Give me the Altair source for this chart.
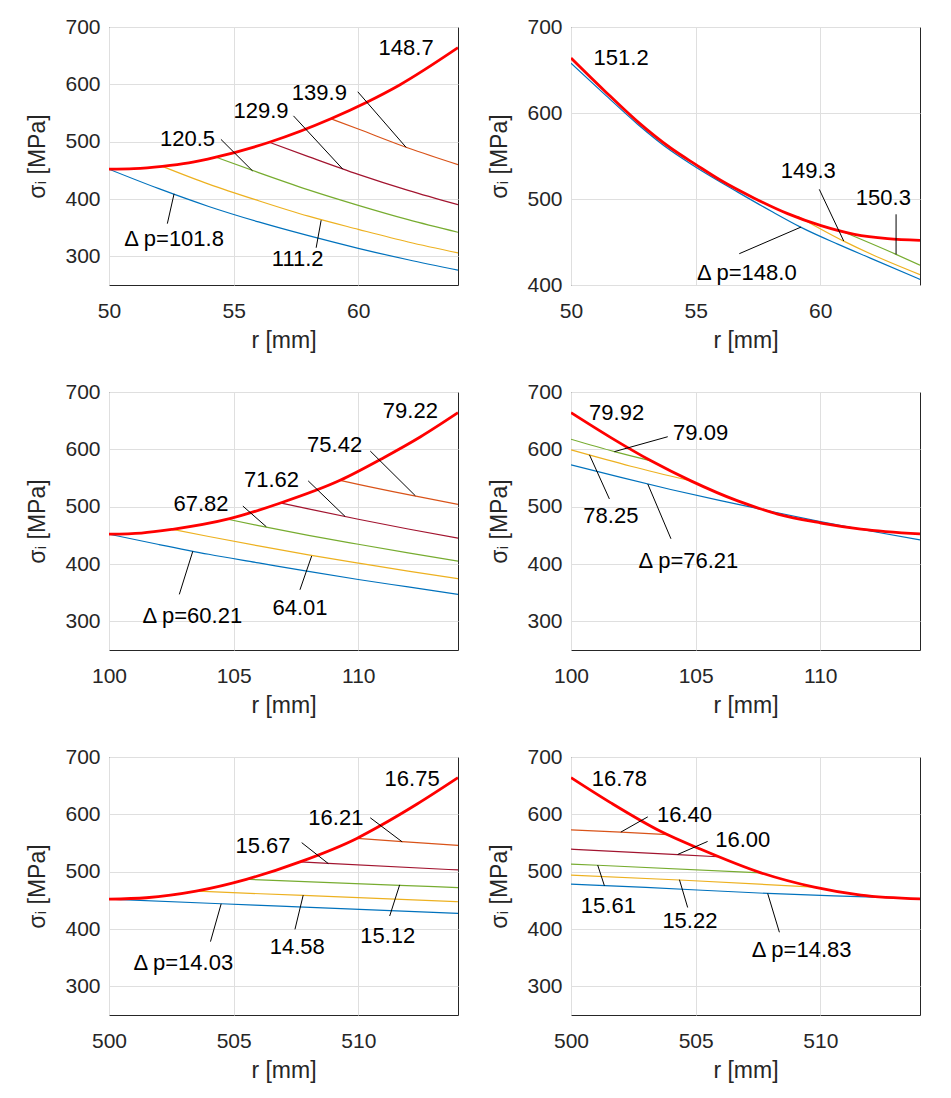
import altair as alt
import pandas as pd

# ---------------- data ----------------
# Top-left panel (r = 50..64 mm)
TL_RED_R = [50, 51, 52.14, 53.2, 54.29, 56.43, 58.9, 60.3, 61.66, 64]
TL_RED_S = [452, 453, 457, 463, 473, 499, 540, 568, 599, 664]
TL_BLUE_R = [50, 52, 54, 56, 58, 60, 62, 64]
TL_BLUE_S = [452, 418, 387, 360, 336, 314, 294, 276]
TL_YELLOW_R = [52.14, 54, 56, 58, 60, 62, 64]
TL_YELLOW_S = [457, 426, 397, 370, 347, 325, 306]
TL_GREEN_R = [54.29, 56, 58, 60, 62, 64]
TL_GREEN_S = [473, 446, 416, 389, 364, 342]
TL_WINE_R = [56.43, 58, 60, 62, 64]
TL_WINE_S = [499, 474, 443, 415, 390]
TL_ORANGE_R = [58.9, 60, 62, 64]
TL_ORANGE_S = [540, 522, 489, 460]
TL_TEXT = ["148.7", "139.9", "129.9", "120.5", "Δ p=101.8", "111.2"]
TL_TEXT_R = [61.92, 58.44, 56.1, 53.15, 52.61, 57.57]
TL_TEXT_S = [664, 585, 553, 504, 330, 295]
TL_LEAD_R1 = [59.98, 57.40, 54.49, 52.34, 58.31]
TL_LEAD_S1 = [587, 545, 504, 357, 315]
TL_LEAD_R2 = [61.92, 59.38, 55.76, 52.61, 58.51]
TL_LEAD_S2 = [490, 452, 449, 409, 363]

# Top-right panel (r = 50..64 mm)
TR_RED_R = [50, 51.34, 52.67, 54.01, 55.01, 56.02, 57.35, 58.69, 60.03, 61.37, 62.70, 64]
TR_RED_S = [664, 626, 590, 559, 540, 521.5, 501, 483, 469, 459, 454, 452]
TR_BLUE_R = [50, 51.34, 52.67, 54.01, 55.01, 56.69, 58.02, 59.23, 60.70, 62.03, 64]
TR_BLUE_S = [658, 622, 587, 556, 537, 508, 486, 467, 447.5, 431, 406.5]
TR_YELLOW_R = [59.09, 60.94, 62.03, 64]
TR_YELLOW_S = [480, 451, 436, 412]
TR_GREEN_R = [60.7, 63.04, 64]
TR_GREEN_S = [464.5, 435.6, 423]
TR_TEXT = ["151.2", "149.3", "150.3", "Δ p=148.0"]
TR_TEXT_R = [52.01, 59.52, 62.53, 57.05]
TR_TEXT_S = [664, 532.6, 501.5, 413.6]
TR_LEAD_R1 = [59.96, 63.04, 56.75]
TR_LEAD_S1 = [511.2, 482.2, 436.4]
TR_LEAD_R2 = [60.94, 63.04, 59.23]
TR_LEAD_S2 = [451.2, 435.6, 467.4]

# Middle-left panel (r = 100..114 mm)
ML_RED_R = [100, 101.3, 102.55, 104.84, 106.85, 109.27, 111.02, 112.5, 114]
ML_RED_S = [452, 454, 460.5, 479, 506, 546, 585.5, 622, 664]
ML_BLUE_R = [100, 102, 104, 106, 108, 110, 112, 114]
ML_BLUE_S = [452, 434, 417, 402, 387, 373, 360, 347]
ML_YELLOW_R = [102.55, 104, 106, 108, 110, 112, 114]
ML_YELLOW_S = [460.5, 448, 431.5, 416, 401.5, 387.5, 374.5]
ML_GREEN_R = [104.77, 106, 108, 110, 112, 114]
ML_GREEN_S = [478, 467, 450, 434.5, 419.5, 405]
ML_WINE_R = [106.92, 108, 110, 112, 114]
ML_WINE_S = [506, 496, 478, 461, 445]
ML_ORANGE_R = [109.27, 110, 112, 114]
ML_ORANGE_S = [546, 539, 521, 504]
ML_TEXT = ["79.22", "75.42", "71.62", "67.82", "Δ p=60.21", "64.01"]
ML_TEXT_R = [112.09, 109.05, 106.52, 103.69, 103.34, 107.66]
ML_TEXT_S = [666, 607, 546, 505, 309, 323]
ML_LEAD_R1 = [110.48, 107.99, 105.37, 102.82, 107.66]
ML_LEAD_S1 = [597, 545, 501, 347, 355]
ML_LEAD_R2 = [112.29, 109.47, 106.31, 103.36, 108.13]
ML_LEAD_S2 = [519, 483, 465, 422, 414]

# Middle-right panel (r = 100..114 mm)
MR_RED_R = [100, 101.6, 103.21, 104.81, 106.69, 107.62, 108.29, 110.03, 111.63, 114]
MR_RED_S = [664, 620.5, 580, 545, 510, 496, 487, 471.5, 461, 452.5]
MR_BLUE_R = [100, 102, 104, 106, 108, 110, 112, 114]
MR_BLUE_S = [573, 551, 530, 510.5, 492, 474, 457.5, 442]
MR_YELLOW_R = [100, 102.4, 104.81]
MR_YELLOW_S = [599, 570.5, 545]
MR_GREEN_R = [100, 101.74, 103.21]
MR_GREEN_S = [617.6, 596, 580]
MR_TEXT = ["79.92", "79.09", "78.25", "Δ p=76.21"]
MR_TEXT_R = [101.83, 105.2, 101.6, 104.71]
MR_TEXT_S = [664, 628, 484, 405]
MR_LEAD_R1 = [103.88, 101.54, 104.01]
MR_LEAD_S1 = [622, 513.5, 444]
MR_LEAD_R2 = [101.74, 100.74, 103.08]
MR_LEAD_S2 = [596, 590.5, 539.5]

# Bottom-left panel (r = 500..514 mm)
BL_RED_R = [500, 501.5, 503.49, 505.51, 507.66, 509.94, 510.88, 512.36, 514]
BL_RED_S = [452, 454.5, 466, 486.6, 517, 558, 580, 618, 664]
BL_BLUE_R = [500, 504.5, 507.12, 514]
BL_BLUE_S = [452, 444, 439.4, 427.2]
BL_YELLOW_R = [503.49, 507.79, 514]
BL_YELLOW_S = [466, 458.5, 447.5]
BL_GREEN_R = [505.51, 511.66, 514]
BL_GREEN_S = [486.6, 476.2, 472.1]
BL_WINE_R = [507.66, 508.8, 514]
BL_WINE_S = [517, 514.3, 503]
BL_ORANGE_R = [509.94, 511.76, 514]
BL_ORANGE_S = [558, 552.5, 546]
BL_TEXT = ["16.75", "16.21", "15.67", "Δ p=14.03", "14.58", "15.12"]
BL_TEXT_R = [512.16, 509.1, 506.18, 502.98, 507.55, 511.18]
BL_TEXT_S = [661, 594, 545, 340, 369, 387]
BL_LEAD_R1 = [510.48, 507.73, 504.07, 507.46, 511.26]
BL_LEAD_S1 = [594, 550.6, 378, 399.4, 422.7]
BL_LEAD_R2 = [511.76, 508.8, 504.5, 507.79, 511.66]
BL_LEAD_S2 = [552, 514, 444, 459, 477]

# Bottom-right panel (r = 500..514 mm)
BR_RED_R = [500, 501.6, 503.61, 505.21, 507.62, 509.76, 511.63, 514]
BR_RED_S = [664, 620, 570, 539, 498, 473, 459, 452.5]
BR_BLUE_R = [500, 503, 507.89, 512.5, 514]
BR_BLUE_S = [478.4, 472.5, 462, 455, 452.5]
BR_YELLOW_R = [500, 504.35, 509.76]
BR_YELLOW_S = [494, 485.5, 473]
BR_GREEN_R = [500, 501.07, 507.62]
BR_GREEN_S = [513.2, 511.2, 498]
BR_WINE_R = [500, 504.28, 505.88]
BR_WINE_S = [539.3, 529.6, 526]
BR_ORANGE_R = [500, 502.0, 503.88]
BR_ORANGE_S = [573, 569, 564.5]
BR_TEXT = ["16.78", "16.40", "16.00", "15.61", "15.22", "Δ p=14.83"]
BR_TEXT_R = [501.94, 504.55, 506.89, 501.5, 504.77, 509.25]
BR_TEXT_S = [661, 599, 555.6, 440.7, 413.5, 364]
BR_LEAD_R1 = [503.08, 505.48, 501.34, 504.68, 508.36]
BR_LEAD_S1 = [595.6, 552.7, 475.5, 437.5, 394.3]
BR_LEAD_R2 = [502.0, 504.28, 501.07, 504.35, 507.89]
BR_LEAD_S2 = [569, 530, 511.5, 486, 462]

# ---------------- styling ----------------
FONT = "Liberation Sans"
SERIES = ["blue", "yellow", "green", "wine", "orange"]
SERIES_COLORS = ["#0072BD", "#EDB120", "#77AC30", "#A2142F", "#D95319"]
RED = "#FF0000"
PANEL_W, PANEL_H = 349, 258


def make_panel(curves, texts, tr, ts, lr1, ls1, lr2, ls2, xdom, xvals, ydom, yvals):
    rows = []
    for name, rr, ss in curves:
        for i, (a, b) in enumerate(zip(rr, ss)):
            rows.append({"r": a, "s": b, "series": name, "i": i})
    df = pd.DataFrame(rows)
    thin = df[df["series"] != "red"]
    red = df[df["series"] == "red"]

    X = alt.X("r:Q", scale=alt.Scale(domain=xdom, nice=False, zero=False),
              axis=alt.Axis(values=xvals, title="r [mm]"))
    Y = alt.Y("s:Q", scale=alt.Scale(domain=ydom, nice=False, zero=False),
              axis=alt.Axis(values=yvals, title="σᵢ [MPa]"))

    thin_layer = alt.Chart(thin).mark_line(
        strokeWidth=1.2, interpolate="monotone", clip=True
    ).encode(
        X, Y,
        color=alt.Color("series:N", scale=alt.Scale(domain=SERIES, range=SERIES_COLORS), legend=None),
        order="i:Q",
    )
    red_layer = alt.Chart(red).mark_line(
        color=RED, strokeWidth=2.8, interpolate="monotone", clip=True
    ).encode(X, Y, order="i:Q")

    lead_df = pd.DataFrame({"r": lr1, "s": ls1, "r2": lr2, "s2": ls2})
    lead_layer = alt.Chart(lead_df).mark_rule(color="black", strokeWidth=1).encode(
        X, Y, x2="r2:Q", y2="s2:Q"
    )
    text_df = pd.DataFrame({"r": tr, "s": ts, "t": texts})
    text_layer = alt.Chart(text_df).mark_text(
        font=FONT, fontSize=22, color="black", align="center", baseline="middle"
    ).encode(X, Y, text="t:N")

    return alt.layer(thin_layer, red_layer, lead_layer, text_layer).properties(
        width=PANEL_W, height=PANEL_H
    )


Y_FULL = [300, 400, 500, 600, 700]

tl = make_panel(
    [("blue", TL_BLUE_R, TL_BLUE_S), ("yellow", TL_YELLOW_R, TL_YELLOW_S),
     ("green", TL_GREEN_R, TL_GREEN_S), ("wine", TL_WINE_R, TL_WINE_S),
     ("orange", TL_ORANGE_R, TL_ORANGE_S), ("red", TL_RED_R, TL_RED_S)],
    TL_TEXT, TL_TEXT_R, TL_TEXT_S, TL_LEAD_R1, TL_LEAD_S1, TL_LEAD_R2, TL_LEAD_S2,
    [50, 64], [50, 55, 60], [250, 700], Y_FULL)
tr_ = make_panel(
    [("blue", TR_BLUE_R, TR_BLUE_S), ("yellow", TR_YELLOW_R, TR_YELLOW_S),
     ("green", TR_GREEN_R, TR_GREEN_S), ("red", TR_RED_R, TR_RED_S)],
    TR_TEXT, TR_TEXT_R, TR_TEXT_S, TR_LEAD_R1, TR_LEAD_S1, TR_LEAD_R2, TR_LEAD_S2,
    [50, 64], [50, 55, 60], [400, 700], [400, 500, 600, 700])
ml = make_panel(
    [("blue", ML_BLUE_R, ML_BLUE_S), ("yellow", ML_YELLOW_R, ML_YELLOW_S),
     ("green", ML_GREEN_R, ML_GREEN_S), ("wine", ML_WINE_R, ML_WINE_S),
     ("orange", ML_ORANGE_R, ML_ORANGE_S), ("red", ML_RED_R, ML_RED_S)],
    ML_TEXT, ML_TEXT_R, ML_TEXT_S, ML_LEAD_R1, ML_LEAD_S1, ML_LEAD_R2, ML_LEAD_S2,
    [100, 114], [100, 105, 110], [250, 700], Y_FULL)
mr = make_panel(
    [("blue", MR_BLUE_R, MR_BLUE_S), ("yellow", MR_YELLOW_R, MR_YELLOW_S),
     ("green", MR_GREEN_R, MR_GREEN_S), ("red", MR_RED_R, MR_RED_S)],
    MR_TEXT, MR_TEXT_R, MR_TEXT_S, MR_LEAD_R1, MR_LEAD_S1, MR_LEAD_R2, MR_LEAD_S2,
    [100, 114], [100, 105, 110], [250, 700], Y_FULL)
bl = make_panel(
    [("blue", BL_BLUE_R, BL_BLUE_S), ("yellow", BL_YELLOW_R, BL_YELLOW_S),
     ("green", BL_GREEN_R, BL_GREEN_S), ("wine", BL_WINE_R, BL_WINE_S),
     ("orange", BL_ORANGE_R, BL_ORANGE_S), ("red", BL_RED_R, BL_RED_S)],
    BL_TEXT, BL_TEXT_R, BL_TEXT_S, BL_LEAD_R1, BL_LEAD_S1, BL_LEAD_R2, BL_LEAD_S2,
    [500, 514], [500, 505, 510], [250, 700], Y_FULL)
br = make_panel(
    [("blue", BR_BLUE_R, BR_BLUE_S), ("yellow", BR_YELLOW_R, BR_YELLOW_S),
     ("green", BR_GREEN_R, BR_GREEN_S), ("wine", BR_WINE_R, BR_WINE_S),
     ("orange", BR_ORANGE_R, BR_ORANGE_S), ("red", BR_RED_R, BR_RED_S)],
    BR_TEXT, BR_TEXT_R, BR_TEXT_S, BR_LEAD_R1, BR_LEAD_S1, BR_LEAD_R2, BR_LEAD_S2,
    [500, 514], [500, 505, 510], [250, 700], Y_FULL)

chart = alt.vconcat(
    alt.hconcat(tl, tr_, spacing=29),
    alt.hconcat(ml, mr, spacing=29),
    alt.hconcat(bl, br, spacing=29),
    spacing=27,
).properties(
    padding={"left": 18, "top": 7, "right": 5, "bottom": 5}
).configure_view(
    stroke="#262626", strokeWidth=1
).configure_axis(
    labelFont=FONT, titleFont=FONT, labelFontSize=21, titleFontSize=23,
    labelColor="#262626", titleColor="#262626", titleFontWeight="normal",
    gridColor="#dfdfdf", gridWidth=1, domain=False, ticks=False, tickSize=0,
    labelFlush=False,
).configure_axisX(
    labelPadding=15, titlePadding=8
).configure_axisY(
    labelPadding=9, titlePadding=15
)

chart.save("out.html", embed_options={"renderer": "svg", "actions": False})
